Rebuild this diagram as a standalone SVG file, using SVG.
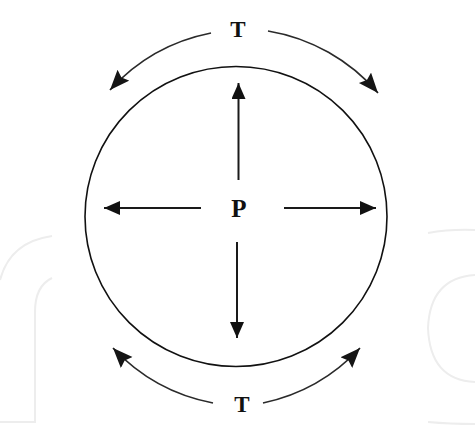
<svg xmlns="http://www.w3.org/2000/svg" width="475" height="431" viewBox="0 0 475 431">
<style>
.wm{fill:none;stroke:#ededed;stroke-width:2}
.circ{fill:none;stroke:#111;stroke-width:1.6}
.arr{fill:none;stroke:#1a1a1a;stroke-width:2}
.arc{fill:none;stroke:#2a2a2a;stroke-width:1.7}
.lbl{font-family:"Liberation Serif","DejaVu Serif",serif;font-weight:bold;fill:#111;text-anchor:middle}
</style>
<defs>
<marker id="ah" markerUnits="userSpaceOnUse" markerWidth="18" markerHeight="16" refX="16" refY="7" orient="auto">
<path d="M0,0 L16,7 L0,14 Z" fill="#111"/>
</marker>
<marker id="ahb" markerUnits="userSpaceOnUse" markerWidth="22" markerHeight="18" refX="20" refY="8" orient="auto">
<path d="M0,0 L20,8 L0,16 L3,8 Z" fill="#151515"/>
</marker>
</defs>
<rect width="475" height="431" fill="#fff"/>
<g id="watermark">
<path class="wm" d="M52,236 Q10,242 0,280"/>
<path class="wm" d="M52,278 Q35,286 35,312 L35,422 L0,422"/>
<path class="wm" d="M475,275 Q430,278 428,328 Q430,380 475,382"/>
<path class="wm" d="M428,233 Q450,229 475,230"/>
<path class="wm" d="M428,422 Q450,424 475,424"/>
</g>
<g id="circle">
<ellipse class="circ" cx="236" cy="216.5" rx="151" ry="150"/>
</g>
<g id="label-P">
<text class="lbl" x="239" y="217" font-size="25">P</text>
</g>
<g id="label-T-top">
<text class="lbl" x="238" y="37" font-size="23">T</text>
</g>
<g id="label-T-bottom">
<text class="lbl" x="242" y="412" font-size="23">T</text>
</g>
<g id="connectors">
<line class="arr" x1="238.5" y1="180" x2="238.5" y2="83" marker-end="url(#ah)"/>
<line class="arr" x1="237" y1="242" x2="237" y2="338" marker-end="url(#ah)"/>
<line class="arr" x1="201" y1="208" x2="104" y2="208" marker-end="url(#ah)"/>
<line class="arr" x1="284" y1="208" x2="376" y2="208" marker-end="url(#ah)"/>
<path class="arc" d="M211,33 A185,185 0 0,0 110,90" marker-end="url(#ahb)"/>
<path class="arc" d="M268,31 A185,185 0 0,1 378,93" marker-end="url(#ahb)"/>
<path class="arc" d="M213,403 A185,185 0 0,1 113,348" marker-end="url(#ahb)"/>
<path class="arc" d="M263,403 A185,185 0 0,0 360,348" marker-end="url(#ahb)"/>
</g>
</svg>
